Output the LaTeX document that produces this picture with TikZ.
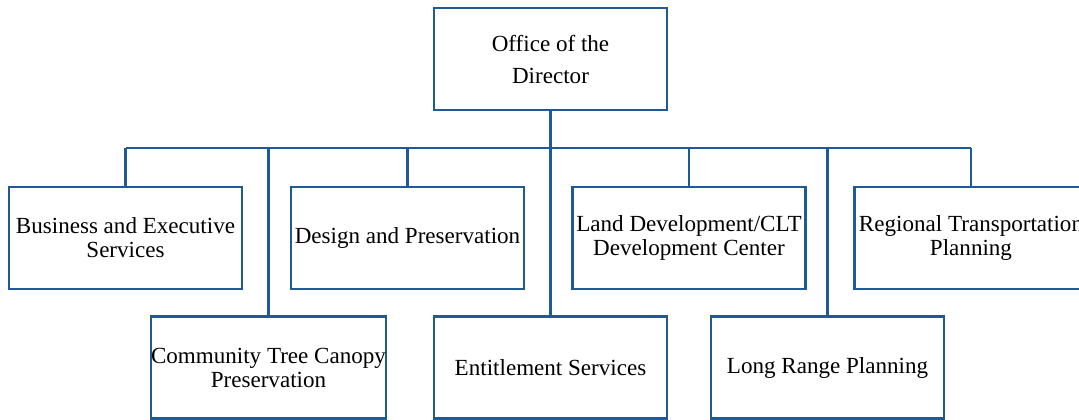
\documentclass[tikz,border=0pt]{standalone}
\usepackage{fontspec}
\setmainfont{Liberation Serif}
\usepackage{tikz}

\definecolor{orgblue}{HTML}{1F5A96}

\begin{document}
\begin{tikzpicture}[x=0.75pt, y=-0.75pt,
  unit/.style={draw=orgblue, line width=1.8pt, fill=white, rectangle,
    minimum width=174.5pt, minimum height=76.5pt, align=center,
    inner sep=0pt, font=\fontsize{17.3}{18}\selectfont},
  link/.style={draw=orgblue, line width=1.8pt}]
\useasboundingbox (0,0) rectangle (1079,420);
\clip (0,0) rectangle (1079,420);
 \node[unit, font=\fontsize{17.3}{24}\selectfont] (dir) at (550.5,59) {Office of the\\Director};
% first row
 \node[unit] (biz) at (125.5,238) {Business and Executive\\Services};
 \node[unit] (dsg) at (407.5,238) {Design and Preservation};
 \node[unit] (land) at (689,238) {Land Development/CLT\\Development Center};
 \node[unit] (reg) at (971,238) {Regional Transportation\\Planning};
% second row
 \node[unit] (ctc) at (268.5,367.5) {Community Tree Canopy\\Preservation};
 \node[unit] (ent) at (550.5,367.5) {Entitlement Services};
 \node[unit] (lrp) at (827.5,367.5) {Long Range Planning};
\coordinate (bus) at (0,148);
\draw[link] (biz.north |- bus) -- (reg.north |- bus);
\draw[link] (dir.south) -- (ent.north);
 \foreach \u in {biz, dsg, land, reg, ctc, lrp}
  \draw[link] (\u.north) -- (\u.north |- bus);
 \end{tikzpicture}
\end{document}
